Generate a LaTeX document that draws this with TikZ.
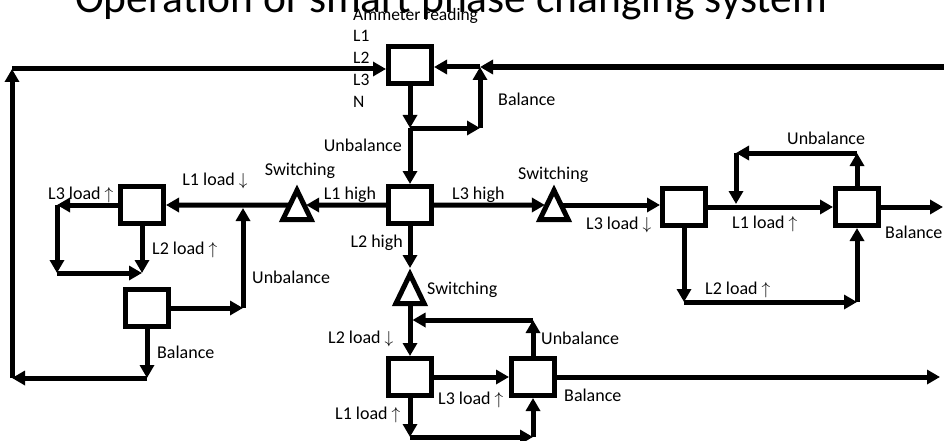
\documentclass[tikz,border=0pt]{standalone}
\usepackage{fontspec}
\setmainfont{Carlito}
\usetikzlibrary{arrows.meta,calc}
\newcommand{\upar}{$\uparrow$}
\newcommand{\dnar}{$\downarrow$}
\begin{document}
\begin{tikzpicture}[x=1pt,y=-1pt,
  every node/.style={inner sep=0pt},
  stage/.style={draw, line width=5pt, minimum width=43pt, minimum height=37pt},
  switchbox/.style={minimum width=28pt, minimum height=29pt},
  tri/.style={line width=5pt, line join=miter},
  flow/.style={line width=5pt, -{Triangle[length=13pt,width=14pt]}},
  lbl/.style={font=\fontsize{18}{20}\selectfont, anchor=base west},
  lblr/.style={lbl, anchor=base east},
  lblc/.style={lbl, anchor=base},
  small/.style={font=\fontsize{17.5}{19}\selectfont, anchor=base west},
]
\useasboundingbox (0,0) rectangle (944,441);
\clip (0,0) rectangle (944,441);
\fill[white] (0,0) rectangle (944,441);

% heading, partly above the frame
\node[font=\fontsize{43.5}{45}\selectfont, anchor=base west] (title) at (75,13) {Operation of smart phase changing system};

% measuring stage and decision stages
\node[stage] (A)  at (410,65)  {};
\node[stage] (B)  at (410,205) {};
\node[stage] (C1) at (142,205) {};
\node[stage] (C2) at (147,308) {};
\node[stage] (D1) at (410,377) {};
\node[stage] (D2) at (533,377) {};
\node[stage] (R1) at (684,207) {};
\node[stage] (R2) at (857,207) {};

% switching elements
\node[switchbox] (T1) at (297,205) {};
\node[switchbox] (T2) at (554,205) {};
\node[switchbox] (T3) at (410,289) {};
\foreach \t in {T1,T2,T3}
  \draw[tri] (\t.north) -- (\t.south east) -- (\t.south west) -- cycle;
\coordinate (T1r) at ($(T1.north)!0.5!(T1.south east)+(2,0)$);
\coordinate (T1l) at ($(T1.north)!0.5!(T1.south west)$);
\coordinate (T2l) at ($(T2.north)!0.5!(T2.south west)+(-2,0)$);
\coordinate (T2r) at ($(T2.north)!0.5!(T2.south east)$);
\coordinate (T3top) at (410,268);

% ammeter loop
\coordinate (jA) at (410,128);
\coordinate (jB) at (480,128);
\coordinate (jC) at (480,67);
\coordinate (rin) at (944,67);
\draw[flow] (A.south) -- (jA);
\draw[flow] (jA) -- (B.north);
\draw[flow] (jA) -- (jB);
\draw[flow] (jB) -- (jC);
\draw[flow] (jC) -- (jC -| A.east);
\draw[flow, line width=6pt] (rin) -- (jC);

% return path on the left
\coordinate (lt) at (12,69);
\coordinate (lb) at (12,378);
\coordinate (cb) at (147,378);
\draw[flow] (C2.south) -- (cb);
\draw[flow] (cb) -- (lb);
\draw[flow] (lb) -- (lt);
\draw[flow] (lt) -- (lt -| A.west);

% L1 high branch
\coordinate (j1) at (243,208);
\coordinate (j2) at (243,308);
\draw[flow] (B.west) -- (T1r);
\draw[flow] (T1l) -- (C1.east);
\draw[flow] (C2.east) -- (j2);
\draw[flow] (j2) -- (j1);
\coordinate (cl1) at (57,205);
\coordinate (cl2) at (57,273);
\coordinate (cl3) at (142,273);
\draw[flow] (C1.west) -- (cl1);
\draw[flow] (cl1) -- (cl2);
\draw[flow] (cl2) -- (cl3);
\draw[flow] (C1.south) -- (cl3);

% L2 high branch
\draw[flow] (B.south) -- (T3top);
\draw[flow] (T3.south) -- (D1.north);
\coordinate (dj1) at (533,320);
\coordinate (dj2) at (412.5,320);
\coordinate (dj3) at (410,437);
\coordinate (dj4) at (533,437);
\coordinate (dout) at (940,377);
\draw[flow] (D2.north) -- (dj1);
\draw[flow] (dj1) -- (dj2);
\draw[flow] (D1.east) -- (D2.west);
\draw[flow] (D1.south) -- (dj3);
\draw[flow] (dj3) -- (dj4);
\draw[flow] (dj4) -- (D2.south);
\draw[flow] (D2.east) -- (dout);

% L3 high branch
\coordinate (rj1) at (857,153);
\coordinate (rj2) at (736,153);
\coordinate (rj3) at (736,204);
\coordinate (rj4) at (684,302);
\coordinate (rj5) at (857,302);
\coordinate (rout) at (943,207);
\draw[flow] (B.east) -- (T2l);
\draw[flow] (T2r) -- (T2r -| R1.west);
\draw[flow] (R1.east) -- (R2.west);
\draw[flow] (R2.north) -- (rj1);
\draw[flow] (rj1) -- (rj2);
\draw[flow] (rj2) -- (rj3);
\draw[flow] (R1.south) -- (rj4);
\draw[flow] (rj4) -- (rj5);
\draw[flow] (rj5) -- (R2.south);
\draw[flow] (R2.east) -- (rout);

% inputs of the ammeter
\node[small] (amm) at (353,21) {Ammeter reading};
\node[small] (in1) at (353,42) {L1};
\node[small] (in2) at (353,64) {L2};
\node[small] (in3) at (353,86) {L3};
\node[small] (in4) at (353,107) {N};

% labels
\node[lbl]  (b0)  at (498,106) {Balance};
\node[lblr] (u0)  at (402,151) {Unbalance};
\node[lblc] (s1)  at (300,175) {Switching};
\node[lblc] (h1)  at (350,199) {L1 high};
\node[lblc] (l1d) at (215,185) {L1 load \dnar};
\node[lbl]  (l3u) at (48,199)  {L3 load \upar};
\node[lbl]  (l2u) at (152,254) {L2 load \upar};
\node[lbl]  (u1)  at (252,283) {Unbalance};
\node[lbl]  (b1)  at (157,358) {Balance};
\node[lblr] (h2)  at (403,247) {L2 high};
\node[lbl]  (h3)  at (452,199) {L3 high};
\node[lbl]  (s3)  at (427,294) {Switching};
\node[lbl]  (l2d) at (328,343) {L2 load \dnar};
\node[lbl]  (l1u) at (335,419) {L1 load \upar};
\node[lbl]  (l3b) at (438,404) {L3 load \upar};
\node[lbl]  (u2)  at (541,344) {Unbalance};
\node[lbl]  (b2)  at (564,401) {Balance};
\node[lbl]  (s2)  at (518,179) {Switching};
\node[lbl]  (l3d) at (586,229) {L3 load \dnar};
\node[lbl]  (l1r) at (732,228) {L1 load \upar};
\node[lbl]  (u3)  at (787,144) {Unbalance};
\node[lbl]  (l2r) at (705,294) {L2 load \upar};
\node[lbl]  (b3)  at (885,238) {Balance};
\end{tikzpicture}
\end{document}
